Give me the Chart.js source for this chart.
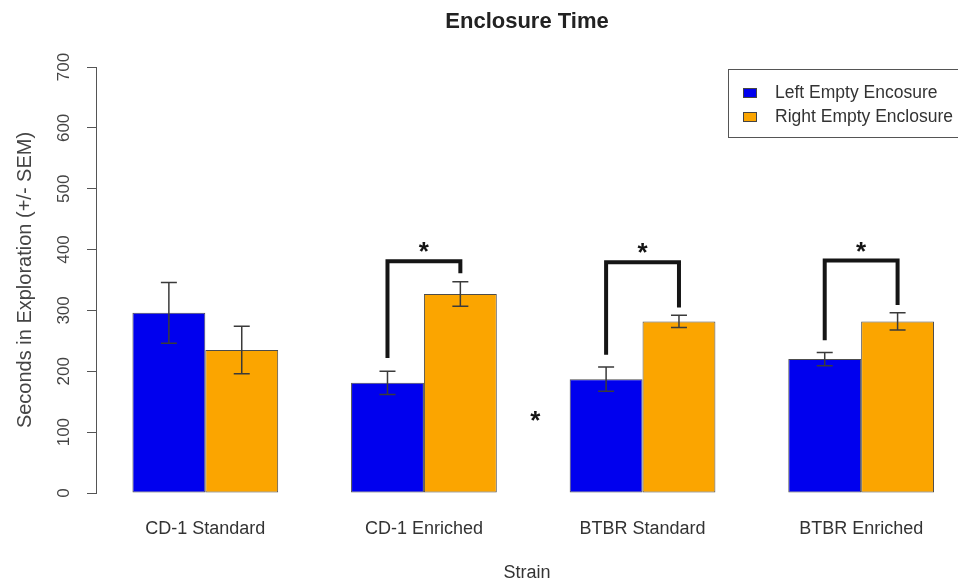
<!DOCTYPE html>
<html>
<head>
<meta charset="utf-8">
<title>Enclosure Time</title>
<script src="https://cdn.jsdelivr.net/npm/chart.js@4.4.1/dist/chart.umd.min.js"></script>
<style>
  html, body { margin: 0; padding: 0; background: #fff; }
  canvas { display: block; }
</style>
</head>
<body>
<canvas id="enclosureChart" width="958" height="585"></canvas>
<script>
const strains = ["CD-1 Standard", "CD-1 Enriched", "BTBR Standard", "BTBR Enriched"];
const leftMeans = [296, 181, 187, 220];
const leftSem = [50, 19, 20, 11];
const rightMeans = [235, 327, 282, 282];
const rightSem = [39, 20, 10, 14];
const yTicks = [0, 100, 200, 300, 400, 500, 600, 700];

// significance brackets per strain (null = none): left arm end, right arm end, top
const bracketLeftEnd = [null, 222, 227, 251];
const bracketRightEnd = [null, 361, 305, 309];
const bracketTop = [null, 381, 379, 382];
// the lone asterisk between CD-1 Enriched and BTBR Standard: [x, value]
const looseStar = [1.5, 123];

const FONT = "'Liberation Sans', Arial, sans-serif";
Chart.defaults.font.family = FONT;

// error bars, brackets and asterisks
const annotations = {
    id: "annotations",
    afterDatasetsDraw(chart) {
        const { ctx } = chart;
        const x = chart.scales.x;
        const y = chart.scales.y;
        const means = [leftMeans, rightMeans];
        const sems = [leftSem, rightSem];

        ctx.save();
        ctx.strokeStyle = "#3a3a3a";
        ctx.lineWidth = 1.5;
        [0, 1].forEach((d) => {
            chart.getDatasetMeta(d).data.forEach((bar, i) => {
                const top = y.getPixelForValue(means[d][i] + sems[d][i]);
                const bot = y.getPixelForValue(means[d][i] - sems[d][i]);
                ctx.beginPath();
                ctx.moveTo(bar.x, top);
                ctx.lineTo(bar.x, bot);
                ctx.moveTo(bar.x - 8, top);
                ctx.lineTo(bar.x + 8, top);
                ctx.moveTo(bar.x - 8, bot);
                ctx.lineTo(bar.x + 8, bot);
                ctx.stroke();
            });
        });

        const left = chart.getDatasetMeta(0).data;
        const right = chart.getDatasetMeta(1).data;
        ctx.strokeStyle = "#151515";
        ctx.lineWidth = 4;
        ctx.fillStyle = "#151515";
        ctx.font = "bold 26px " + FONT;
        ctx.textAlign = "center";
        ctx.textBaseline = "alphabetic";
        strains.forEach((s, i) => {
            if (bracketTop[i] === null) return;
            const xl = left[i].x;
            const xr = right[i].x;
            const yt = y.getPixelForValue(bracketTop[i]);
            ctx.beginPath();
            ctx.moveTo(xl, y.getPixelForValue(bracketLeftEnd[i]));
            ctx.lineTo(xl, yt);
            ctx.lineTo(xr, yt);
            ctx.lineTo(xr, y.getPixelForValue(bracketRightEnd[i]));
            ctx.stroke();
            ctx.fillText("*", x.getPixelForValue(i), yt - 1);
        });
        ctx.fillText("*", x.getPixelForValue(looseStar[0]) + 2, y.getPixelForValue(looseStar[1]) + 11);
        ctx.restore();
    },
};

// boxed legend sitting inside the plot, top right
const legendBox = {
    id: "legendBox",
    afterDraw(chart) {
        const { ctx } = chart;
        ctx.save();
        ctx.strokeStyle = "#555";
        ctx.lineWidth = 1;
        ctx.strokeRect(728.5, 69.5, 260, 68);
        ctx.font = "17.5px " + FONT;
        ctx.textBaseline = "middle";
        chart.data.datasets.forEach((ds, i) => {
            const cy = 93 + i * 24;
            ctx.fillStyle = ds.backgroundColor;
            ctx.fillRect(743, cy - 5, 14, 10);
            ctx.strokeStyle = "#444";
            ctx.strokeRect(743.5, cy - 4.5, 13, 9);
            ctx.fillStyle = "#333";
            ctx.fillText(ds.label, 775, cy);
        });
        ctx.restore();
    },
};

new Chart(document.getElementById("enclosureChart"), {
    type: "bar",
    data: {
        datasets: [
            {
                label: "Left Empty Encosure",
                data: leftMeans.map((v, i) => ({ x: i, y: v })),
                backgroundColor: "#0000ee",
                borderColor: "rgba(0,0,0,0.7)",
                borderWidth: 1,
                borderSkipped: false,
            },
            {
                label: "Right Empty Enclosure",
                data: rightMeans.map((v, i) => ({ x: i, y: v })),
                backgroundColor: "#fba500",
                borderColor: "rgba(0,0,0,0.7)",
                borderWidth: 1,
                borderSkipped: false,
            },
        ],
    },
    options: {
        responsive: false,
        animation: false,
        devicePixelRatio: 1,
        categoryPercentage: 2 / 3,
        barPercentage: 1,
        layout: { padding: 0 },
        plugins: {
            legend: { display: false },
            tooltip: { enabled: false },
            title: { display: false },
        },
        scales: {
            x: {
                type: "linear",
                position: "bottom",
                offset: false,
                min: -0.5,
                max: 3.443,
                afterBuildTicks: (axis) => {
                    axis.ticks = strains.map((s, i) => ({ value: i }));
                },
                afterFit: (axis) => { axis.height = 92; },
                grid: { display: false, drawTicks: false },
                border: { display: false },
                ticks: {
                    callback: (v) => strains[v],
                    font: { size: 18 },
                    color: "#333",
                    padding: 25,
                    maxRotation: 0,
                    autoSkip: false,
                },
                title: {
                    display: true,
                    text: "Strain",
                    font: { size: 18 },
                    color: "#333",
                    padding: { top: 0, bottom: 1 },
                },
            },
            titleAxis: {
                type: "linear",
                position: "top",
                display: true,
                afterFit: (axis) => { axis.height = 67; },
                grid: { display: false, drawTicks: false },
                border: { display: false },
                ticks: { display: false },
                title: {
                    display: true,
                    text: "Enclosure Time",
                    font: { size: 22, weight: "bold" },
                    color: "#222",
                    padding: { top: 9, bottom: 0 },
                },
            },
            y: {
                min: 0,
                max: 700,
                afterBuildTicks: (axis) => {
                    axis.ticks = yTicks.map((v) => ({ value: v }));
                },
                afterFit: (axis) => { axis.width = 96; },
                grid: {
                    drawOnChartArea: false,
                    drawTicks: true,
                    tickLength: 9,
                    tickColor: "#555",
                },
                border: { display: true, color: "#555", width: 1 },
                ticks: {
                    font: { size: 17 },
                    color: "#444",
                    minRotation: 90,
                    maxRotation: 90,
                    crossAlign: "center",
                    padding: 9,
                },
                title: {
                    display: true,
                    text: "Seconds in Exploration (+/- SEM)",
                    font: { size: 20 },
                    color: "#444",
                    padding: { top: 13, bottom: 0 },
                },
            },
        },
    },
    plugins: [annotations, legendBox],
});
</script>
</body>
</html>
